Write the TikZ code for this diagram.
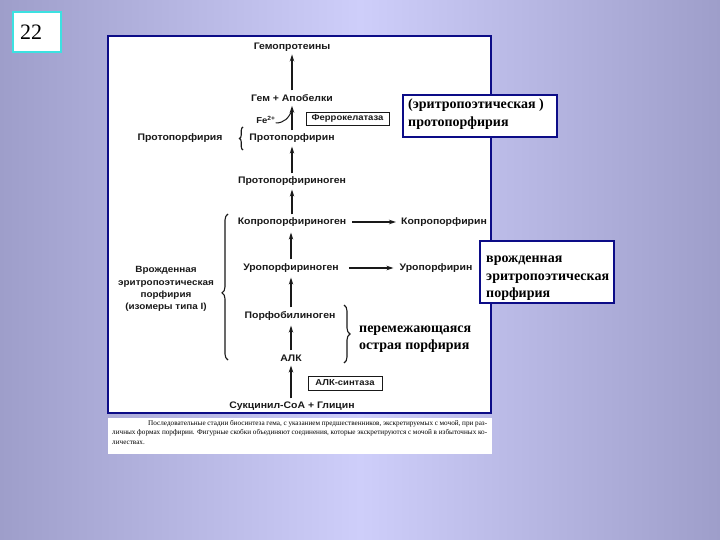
\documentclass[tikz,border=0pt]{standalone}
\usepackage{fontspec}
\setmainfont{Liberation Serif}
\newfontfamily\dia[FakeStretch=1.1]{Liberation Sans}
\usetikzlibrary{arrows.meta,decorations.pathreplacing}
\definecolor{bgedge}{RGB}{158,158,202}
\definecolor{bgmid}{RGB}{206,206,250}
\definecolor{navy}{RGB}{12,12,135}
\definecolor{cyanb}{RGB}{60,225,225}
\definecolor{ink}{RGB}{25,25,25}
\begin{document}
\begin{tikzpicture}[x=1pt,y=-1pt,
  lbl/.style={font=\dia\bfseries\fontsize{9.5}{12.3}\selectfont, text=ink, inner sep=0pt, align=center},
  small/.style={font=\dia\bfseries\fontsize{8.6}{10}\selectfont, text=ink, inner sep=0pt},
  arr/.style={draw=ink, line width=1.1pt, -{Stealth[length=7pt,width=4.5pt]}},
  enz/.style={draw=ink, line width=0.9pt, fill=white},
  frame/.style={draw=navy, line width=2pt, fill=white},
  note/.style={font=\bfseries\fontsize{14}{17.5}\selectfont, inner sep=0pt, align=left, anchor=west},
  brc/.style={draw=ink, line width=1.1pt, decorate},
]
\useasboundingbox (0,0) rectangle (720,540);
\shade[left color=bgedge, right color=bgedge, middle color=bgmid] (0,0) rectangle (720,540);

% slide number
\draw[draw=cyanb, line width=2.5pt, fill=white] (13,12) rectangle (61,52);
\node[font=\fontsize{22}{24}\selectfont, inner sep=0pt] (num) at (31,32) {22};

% main figure frame
\draw[frame] (108,36) rectangle (491,413);
% caption
\fill[white] (108,418) rectangle (492,454);
\node[anchor=north west, inner sep=0pt, align=left, font=\fontsize{7.2}{9.6}\selectfont] (cap) at (112,420)
 {\makebox[375pt][s]{\hspace*{36pt}Последовательные стадии биосинтеза гема, с указанием предшественников, экскретируемых с мочой, при раз-}\\
  \makebox[375pt][s]{личных формах порфирии. Фигурные скобки объединяют соединения, которые экскретируются с мочой в избыточных ко-}\\
  личествах.};

% pathway
\node[lbl] (hp) at (292,47) {Гемопротеины};
\node[lbl] (gem) at (292,98) {Гем + Апобелки};
\node[lbl] (pp) at (292,138) {Протопорфирин};
\node[lbl] (ppg) at (292,181) {Протопорфириноген};
\node[lbl] (kpg) at (292,222) {Копропорфириноген};
\node[lbl] (kp) at (444,222) {Копропорфирин};
\node[lbl] (upg) at (291,268) {Уропорфириноген};
\node[lbl] (up) at (436,268) {Уропорфирин};
\node[lbl] (pbg) at (290,316) {Порфобилиноген};
\node[lbl] (alk) at (291,358) {АЛК};
\node[lbl] (suc) at (292,406) {Сукцинил-СоА + Глицин};

\draw[arr] ([yshift=4pt]gem.north) -- ([yshift=-3pt]hp.south);
\draw[arr] ([yshift=3pt]pp.north) -- ([yshift=-4pt]gem.south);
\draw[arr] ([yshift=3pt]ppg.north) -- ([yshift=-4pt]pp.south);
\draw[arr] ([yshift=3pt]kpg.north) -- ([yshift=-4pt]ppg.south);
\draw[arr] ([yshift=4pt]upg.north -| 291,0) -- ([yshift=-6pt]kpg.south -| 291,0);
\draw[arr] ([yshift=4pt]pbg.north -| 291,0) -- ([yshift=-5pt]upg.south -| 291,0);
\draw[arr] ([yshift=4pt]alk.north) -- ([yshift=-5pt]pbg.south -| alk.north);
\draw[arr] ([yshift=3pt]suc.north -| alk.south) -- ([yshift=-4pt]alk.south);
\draw[arr] ([xshift=6pt]kpg.east) -- ([xshift=-5pt]kp.west);
\draw[arr] ([xshift=10pt]upg.east) -- ([xshift=-6pt]up.west);

% Fe2+ and enzymes
\node[small] (fe) at (266,120) {Fe\textsuperscript{2+}};
\draw[draw=ink, line width=1pt] ([yshift=-3pt]fe.east) .. controls (284,123) and (289,118) .. (292,110);
\draw[enz] (306,112) rectangle (389,125);
\node[small] (fx) at (347.5,118.5) {Феррокелатаза};
\draw[enz] (308,376) rectangle (382,390);
\node[small] (as) at (345,383) {АЛК-синтаза};

% disease labels
\node[lbl] (pt) at (180,138) {Протопорфирия};
\draw[brc, decoration={brace, amplitude=3.5pt}] (243,150) -- (243,127);
\node[lbl, font=\dia\bfseries\fontsize{9}{12.3}\selectfont] (vep) at (166,289)
  {Врожденная\\эритропоэтическая\\порфирия\\(изомеры типа I)};
\draw[brc, decoration={brace, amplitude=6pt, aspect=0.46}] (228,360) -- (228,214);
\draw[brc, decoration={brace, amplitude=6pt, aspect=0.5}] (344,305) -- (344,363);

% annotation boxes
\draw[frame] (403,95) rectangle (557,137);
\node[note] (n1) at (408,114) {(эритропоэтическая )\\протопорфирия};
\draw[frame] (480,241) rectangle (614,303);
\node[note] (n2) at (486,278.5) {врожденная\\эритропоэтическая\\порфирия};
\node[note] (n3) at (359,339) {перемежающаяся\\острая порфирия};
\end{tikzpicture}
\end{document}
